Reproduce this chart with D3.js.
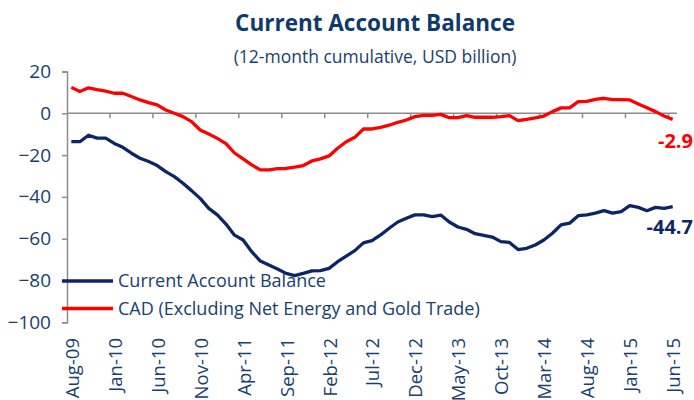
<!DOCTYPE html>
<html>
<head>
<meta charset="utf-8">
<script src="https://cdn.jsdelivr.net/npm/d3@7"></script>
<style>
  body { margin: 0; background: #fff; }
  svg { display: block; font-family: "Open Sans", sans-serif; }
</style>
</head>
<body>
<svg id="chart" width="694" height="400"></svg>
<script>
// categories (monthly, Aug-09 .. Jun-15)
const months = [
  "Aug-09","Sep-09","Oct-09","Nov-09","Dec-09",
  "Jan-10","Feb-10","Mar-10","Apr-10","May-10","Jun-10","Jul-10","Aug-10","Sep-10","Oct-10","Nov-10","Dec-10",
  "Jan-11","Feb-11","Mar-11","Apr-11","May-11","Jun-11","Jul-11","Aug-11","Sep-11","Oct-11","Nov-11","Dec-11",
  "Jan-12","Feb-12","Mar-12","Apr-12","May-12","Jun-12","Jul-12","Aug-12","Sep-12","Oct-12","Nov-12","Dec-12",
  "Jan-13","Feb-13","Mar-13","Apr-13","May-13","Jun-13","Jul-13","Aug-13","Sep-13","Oct-13","Nov-13","Dec-13",
  "Jan-14","Feb-14","Mar-14","Apr-14","May-14","Jun-14","Jul-14","Aug-14","Sep-14","Oct-14","Nov-14","Dec-14",
  "Jan-15","Feb-15","Mar-15","Apr-15","May-15","Jun-15"
];

// Current Account Balance (12-month cumulative, USD bn)
const cab = [
  -13.6,-13.6,-10.5,-11.9,-11.9,-14.4,-16.3,-19.1,-21.5,-23.1,
  -25.0,-27.9,-30.3,-33.5,-37.0,-40.7,-45.5,-48.6,-53.0,-58.3,
  -60.6,-66.2,-70.7,-72.6,-74.5,-76.6,-77.7,-76.6,-75.4,-75.3,
  -74.2,-71.0,-68.3,-65.7,-62.0,-60.9,-58.2,-55.0,-52.0,-50.2,
  -48.6,-48.6,-49.4,-48.7,-52.0,-54.4,-55.5,-57.6,-58.4,-59.2,
  -61.4,-61.8,-65.2,-64.6,-63.0,-60.6,-57.4,-53.4,-52.6,-49.0,
  -48.6,-47.8,-46.6,-47.8,-47.0,-44.2,-45.0,-46.6,-45.0,-45.5,
  -44.7
];

// CAD excluding net energy and gold trade
const cadExEnergyGold = [
  12.4,10.4,12.2,11.3,10.6,9.6,9.6,8.0,6.4,5.1,
  4.0,1.6,0.0,-1.6,-4.0,-8.0,-9.9,-12.0,-14.5,-19.0,
  -21.8,-24.7,-27.1,-27.1,-26.5,-26.4,-25.8,-25.0,-22.8,-21.8,
  -20.4,-16.7,-13.6,-11.5,-7.5,-7.5,-6.7,-5.7,-4.3,-3.2,
  -1.6,-1.0,-1.0,-0.5,-2.1,-2.1,-1.1,-1.9,-1.9,-1.9,
  -1.6,-1.1,-3.5,-2.9,-2.2,-1.3,0.8,2.6,2.6,5.6,
  5.7,6.7,7.2,6.5,6.5,6.4,4.5,2.6,0.8,-1.3,
  -2.9
];

const tickLabels = ["Aug-09","Jan-10","Jun-10","Nov-10","Apr-11","Sep-11","Feb-12",
  "Jul-12","Dec-12","May-13","Oct-13","Mar-14","Aug-14","Jan-15","Jun-15"];
const yTicks = [20, 0, -20, -40, -60, -80, -100];

const seriesNames = ["Current Account Balance", "CAD (Excluding Net Energy and Gold Trade)"];
const colNavy = "#0b2566", colRed = "#ff0000", colText = "#17406d", colAxis = "#8c8c8c";

const svg = d3.select("#chart");

const x = d3.scaleBand().domain(months).range([67, 677]).padding(0);
const y = d3.scaleLinear().domain([-100, 20]).range([322.3, 71.5]);
const cx = m => x(m) + x.bandwidth() / 2;

// titles
svg.append("text")
  .attr("x", 375).attr("y", 31)
  .attr("text-anchor", "middle")
  .attr("font-size", 22.5).attr("font-weight", "bold")
  .attr("fill", "#0e3a6b")
  .text("Current Account Balance");
svg.append("text")
  .attr("x", 375).attr("y", 63)
  .attr("text-anchor", "middle")
  .attr("font-size", 17.5)
  .attr("fill", colText)
  .text("(12-month cumulative, USD billion)");

// y axis
const yAxis = svg.append("g")
  .attr("transform", "translate(67,0)")
  .call(d3.axisLeft(y).tickValues(yTicks).tickSize(5).tickPadding(11));
yAxis.select(".domain").attr("stroke", colAxis).attr("stroke-width", 1.5);
yAxis.selectAll(".tick line").attr("stroke", colAxis).attr("stroke-width", 1.5);
yAxis.selectAll(".tick text")
  .attr("font-size", 19).attr("fill", colText)
  .attr("font-family", "'Open Sans', sans-serif");

// x axis along zero line, ticks between categories every 5 months
const xAxis = svg.append("g");
xAxis.append("line")
  .attr("x1", 67).attr("x2", 677)
  .attr("y1", y(0)).attr("y2", y(0))
  .attr("stroke", colAxis).attr("stroke-width", 1.5);
xAxis.selectAll(".xt")
  .data(tickLabels.slice(1))
  .join("line")
  .attr("class", "xt")
  .attr("x1", d => x(d)).attr("x2", d => x(d))
  .attr("y1", y(0)).attr("y2", y(0) + 5)
  .attr("stroke", colAxis).attr("stroke-width", 1.5);

svg.append("g").selectAll("text")
  .data(tickLabels)
  .join("text")
  .attr("transform", d => `translate(${cx(d) + 1},338) rotate(-90)`)
  .attr("text-anchor", "end")
  .attr("dy", "0.35em")
  .attr("font-size", 18.5)
  .attr("fill", colText)
  .text(d => d);

// lines
const line = d3.line()
  .x((d, i) => cx(months[i]))
  .y(d => y(d));

svg.append("path")
  .datum(cadExEnergyGold)
  .attr("fill", "none").attr("stroke", colRed)
  .attr("stroke-width", 3.3).attr("stroke-linejoin", "round")
  .attr("d", line);

svg.append("path")
  .datum(cab)
  .attr("fill", "none").attr("stroke", colNavy)
  .attr("stroke-width", 3.3).attr("stroke-linejoin", "round")
  .attr("d", line);

// end labels
svg.append("text")
  .attr("x", 693).attr("y", 148)
  .attr("text-anchor", "end")
  .attr("font-size", 20).attr("font-weight", "bold")
  .attr("fill", colRed)
  .text(cadExEnergyGold[cadExEnergyGold.length - 1].toFixed(1));
svg.append("text")
  .attr("x", 693).attr("y", 234)
  .attr("text-anchor", "end")
  .attr("font-size", 20).attr("font-weight", "bold")
  .attr("fill", colNavy)
  .text(cab[cab.length - 1].toFixed(1));

// legend
const legend = svg.append("g");
[colNavy, colRed].forEach((c, i) => {
  const ly = 281 + i * 27.5;
  legend.append("line")
    .attr("x1", 62).attr("x2", 113)
    .attr("y1", ly).attr("y2", ly)
    .attr("stroke", c).attr("stroke-width", 3.3);
  legend.append("text")
    .attr("x", 118).attr("y", ly)
    .attr("dy", "0.35em")
    .attr("font-size", 18)
    .attr("fill", colText)
    .text(seriesNames[i]);
});
</script>
</body>
</html>
